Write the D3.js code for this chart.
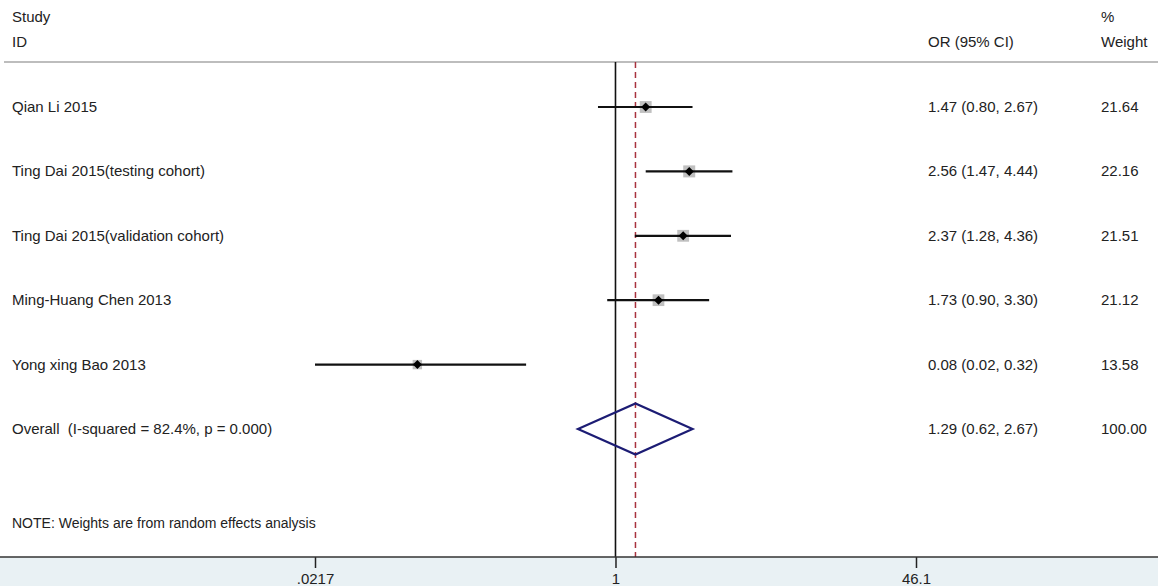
<!DOCTYPE html>
<html>
<head>
<meta charset="utf-8">
<script src="https://cdn.jsdelivr.net/npm/d3@7"></script>
<style>
body{margin:0;background:#fff}
svg text{font-family:"Liberation Sans",Arial,sans-serif;fill:#222;white-space:pre}
</style>
</head>
<body>
<div id="chart"></div>
<script>
// forest plot data
const studies = ["Qian Li 2015","Ting Dai 2015(testing cohort)","Ting Dai 2015(validation cohort)","Ming-Huang Chen 2013","Yong xing Bao 2013"]
const or = [1.47,2.56,2.37,1.73,0.08]
const lower = [0.80,1.47,1.28,0.90,0.02]
const upper = [2.67,4.44,4.36,3.30,0.32]
const weights = [21.64,22.16,21.51,21.12,13.58]

const overallLabel = "Overall  (I-squared = 82.4%, p = 0.000)"
const overall = {or:1.29,lower:0.62,upper:2.67,weight:100.00}

const tickValues = [0.0217,1,46.1]
const tickLabels = [".0217","1","46.1"]

const W = 1158, H = 586
const topY = 62, axisY = 557
const fs = "15px"

const svg = d3.select("#chart")
    .append("svg")
    .attr("width",W)
    .attr("height",H)

// scales
const x = d3.scaleLog()
    .domain([0.0217,46.1])
    .range([315,916])

const y = d3.scaleLinear()
    .domain([0,5])
    .range([107,429])

const box = d3.scaleSqrt()
    .domain([0,22.16])
    .range([0,12])

const fmt = d3.format(".2f")

// headers
svg.append("text").attr("x",12).attr("y",22).text("Study").style("font-size",fs)
svg.append("text").attr("x",12).attr("y",47).text("ID").style("font-size",fs)
svg.append("text").attr("x",928).attr("y",47).text("OR (95% CI)").style("font-size",fs)
svg.append("text").attr("x",1101).attr("y",22).text("%").style("font-size",fs)
svg.append("text").attr("x",1101).attr("y",47).text("Weight").style("font-size",fs)

svg.append("line")
    .attr("x1",4).attr("x2",W)
    .attr("y1",topY).attr("y2",topY)
    .attr("stroke","#bdbdbd")
    .attr("stroke-width",2)

// bottom axis background
svg.append("rect")
    .attr("x",0).attr("y",axisY)
    .attr("width",W).attr("height",H-axisY)
    .attr("fill","#e9f1f4")

// reference lines
svg.append("line")
    .attr("x1",x(1)).attr("x2",x(1))
    .attr("y1",topY).attr("y2",axisY)
    .attr("stroke","#111")
    .attr("stroke-width",1.6)

svg.append("line")
    .attr("x1",x(overall.or)).attr("x2",x(overall.or))
    .attr("y1",topY).attr("y2",axisY)
    .attr("stroke","#a8323e")
    .attr("stroke-width",1.5)
    .attr("stroke-dasharray","6,4")

const rows = studies.map((s,i)=>({study:s,or:or[i],lower:lower[i],upper:upper[i],weight:weights[i],i:i}))
const [dmin,dmax] = x.domain()

const g = svg.selectAll(".row")
    .data(rows)
    .join("g")
    .attr("class","row")

// weight boxes
g.append("rect")
    .attr("x",d=>x(d.or)-box(d.weight)/2)
    .attr("y",d=>y(d.i)-box(d.weight)/2)
    .attr("width",d=>box(d.weight))
    .attr("height",d=>box(d.weight))
    .attr("fill","#c0c0c0")

// CI lines
g.append("line")
    .attr("x1",d=>x(Math.max(d.lower,dmin)))
    .attr("x2",d=>x(Math.min(d.upper,dmax)))
    .attr("y1",d=>y(d.i))
    .attr("y2",d=>y(d.i))
    .attr("stroke","#111")
    .attr("stroke-width",2.2)

// point estimate
g.append("path")
    .attr("d",d=>{
        const cx = x(d.or), cy = y(d.i), r = 4.5
        return `M${cx},${cy-r}L${cx+r},${cy}L${cx},${cy+r}L${cx-r},${cy}Z`
    })
    .attr("fill","#000")

g.append("text").attr("x",12).attr("y",d=>y(d.i)+5).text(d=>d.study).style("font-size",fs)
g.append("text").attr("x",928).attr("y",d=>y(d.i)+5)
    .text(d=>`${fmt(d.or)} (${fmt(d.lower)}, ${fmt(d.upper)})`).style("font-size",fs)
g.append("text").attr("x",1101).attr("y",d=>y(d.i)+5).text(d=>fmt(d.weight)).style("font-size",fs)

// overall diamond
const oy = y(5)
svg.append("path")
    .attr("d",`M${x(overall.lower)},${oy}L${x(overall.or)},${oy-25.5}L${x(overall.upper)},${oy}L${x(overall.or)},${oy+25.5}Z`)
    .attr("fill","none")
    .attr("stroke","#1c1c74")
    .attr("stroke-width",2.2)

svg.append("text").attr("x",12).attr("y",oy+5).text(overallLabel).style("font-size",fs)
svg.append("text").attr("x",928).attr("y",oy+5)
    .text(`${fmt(overall.or)} (${fmt(overall.lower)}, ${fmt(overall.upper)})`).style("font-size",fs)
svg.append("text").attr("x",1101).attr("y",oy+5).text(fmt(overall.weight)).style("font-size",fs)

svg.append("text").attr("x",12).attr("y",528)
    .text("NOTE: Weights are from random effects analysis").style("font-size","14px")

// axis
const axis = svg.append("g")
    .attr("transform",`translate(0,${axisY})`)
    .call(d3.axisBottom(x).tickValues(tickValues).tickSize(11).tickFormat((d,i)=>tickLabels[i]))

axis.select(".domain").remove()
axis.selectAll(".tick line").attr("stroke","#222").attr("stroke-width",1.5)
axis.selectAll(".tick text")
    .attr("y",16)
    .style("font-size",fs)
    .style("font-family","'Liberation Sans',Arial,sans-serif")
    .attr("fill","#222")

svg.append("line")
    .attr("x1",0).attr("x2",W)
    .attr("y1",axisY).attr("y2",axisY)
    .attr("stroke","#333")
    .attr("stroke-width",1.5)
</script>
</body>
</html>
